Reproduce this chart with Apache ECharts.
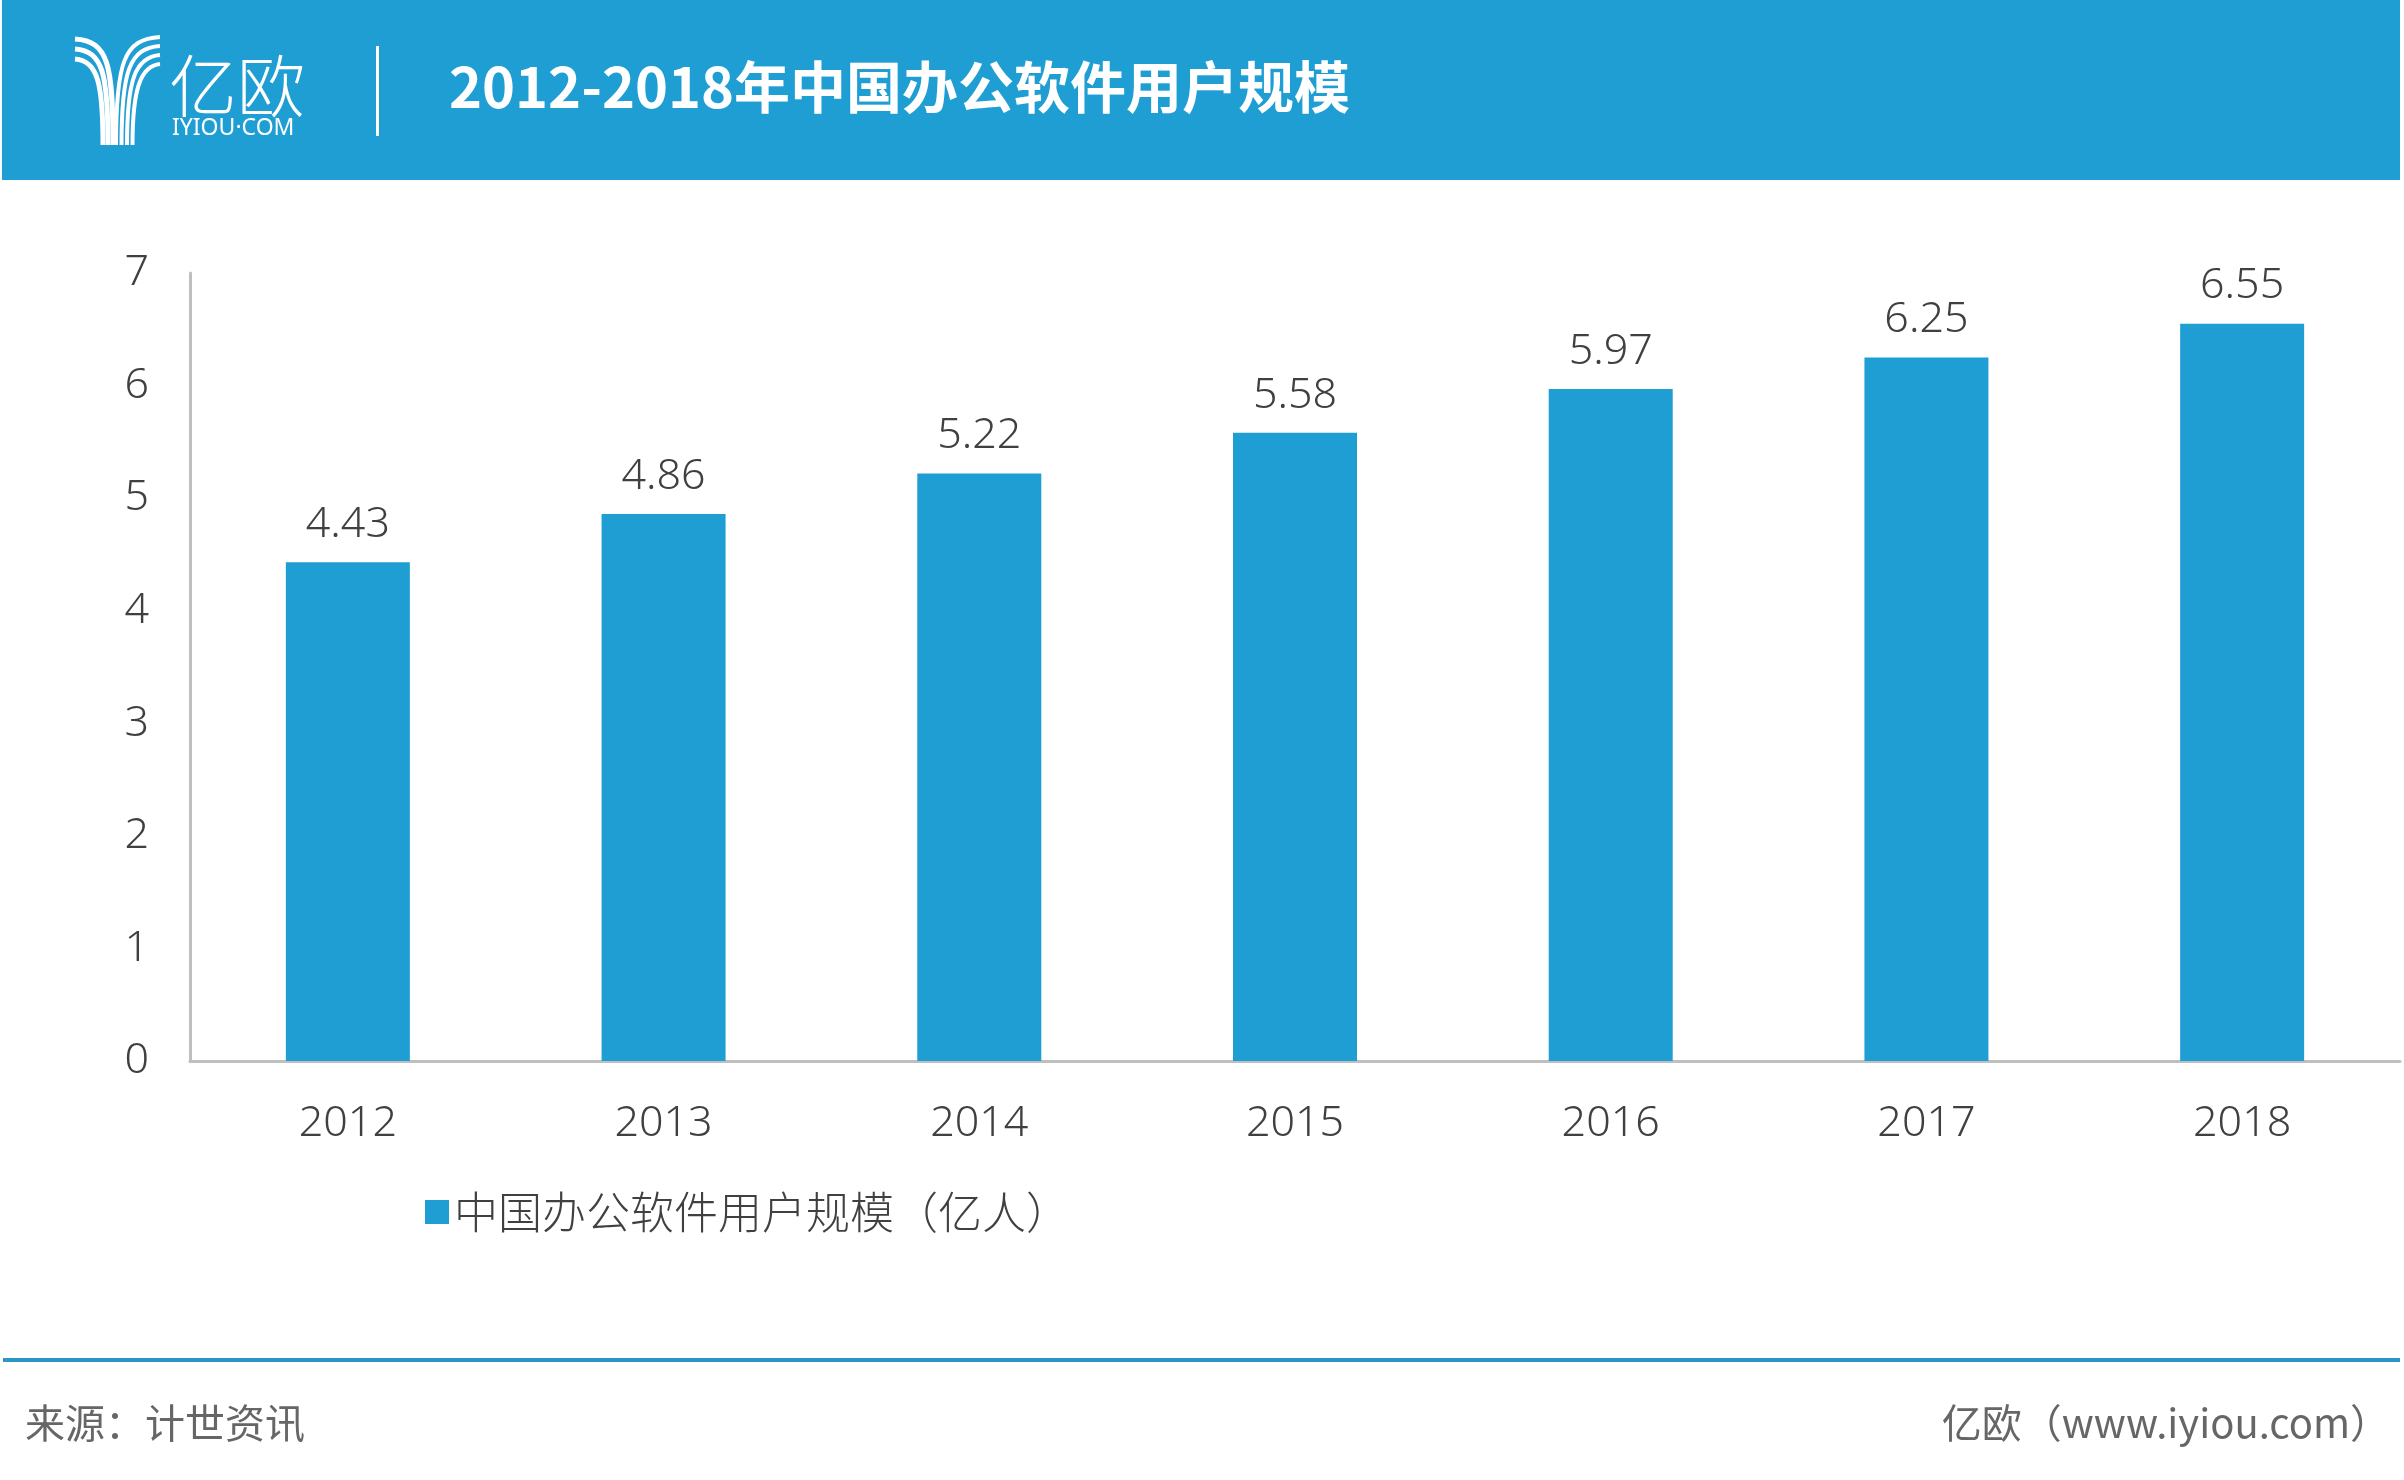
<!DOCTYPE html>
<html>
<head>
<meta charset="utf-8">
<script src="https://cdn.jsdelivr.net/npm/echarts@6/dist/echarts.min.js"></script>
<style>
html,body{margin:0;padding:0;background:#fff;}
#chart{width:2404px;height:1480px;}
</style>
</head>
<body>
<div id="chart"></div>
<script>
const categories = ['2012', '2013', '2014', '2015', '2016', '2017', '2018'];
const userScale = [4.43, 4.86, 5.22, 5.58, 5.97, 6.25, 6.55];
const seriesName = '中国办公软件用户规模（亿人）';
const titleText = '2012-2018年中国办公软件用户规模';
const sourceText = '来源：计世资讯';
const brandText = '亿欧（www.iyiou.com）';

const BLUE = '#1f9ed3';
const TEXT = '#404040';
const NUMFONT = '"Noto Sans", "Noto Sans CJK SC", sans-serif';
const CJKFONT = '"Noto Sans CJK SC", sans-serif';

// Logo stripes (decorative graphic)
const logo = [];
for (let i = 0; i < 3; i++) {
  const y0 = 39 + i * 10;
  const xe = 113 - i * 5;
  logo.push({
    type: 'bezierCurve',
    shape: {x1: 75, y1: y0, cpx1: xe - 5, cpy1: y0 + 2, cpx2: xe, cpy2: y0 + 25, x2: xe, y2: 145},
    style: {stroke: '#fff', lineWidth: 5, fill: null}
  });
}
for (let i = 0; i < 4; i++) {
  const y0 = 37 + i * 9;
  const xe = 116 + i * 5.5;
  logo.push({
    type: 'bezierCurve',
    shape: {x1: 160, y1: y0, cpx1: xe + 8, cpy1: y0 + 2, cpx2: xe, cpy2: y0 + 25, x2: xe, y2: 145},
    style: {stroke: '#fff', lineWidth: 4, fill: null}
  });
}

const chart = echarts.init(document.getElementById('chart'));
chart.setOption({
  backgroundColor: '#fff',
  animation: false,
  graphic: [
    {type: 'rect', shape: {x: 2, y: 0, width: 2398, height: 180}, style: {fill: BLUE}, z: 0},
    ...logo,
    {type: 'text', left: 169, top: 52, style: {text: '亿欧', fill: '#fff', font: '300 68px ' + CJKFONT}},
    {type: 'text', left: 172, top: 117, style: {text: 'IYIOU·COM', fill: '#fff', font: 'normal 23px "Noto Sans", sans-serif'}},
    {type: 'rect', shape: {x: 376, y: 46, width: 3, height: 90}, style: {fill: '#fff'}},
    {type: 'text', left: 449, top: 59, style: {text: titleText, fill: '#fff', font: 'bold 56px ' + CJKFONT}},
    {type: 'rect', shape: {x: 3, y: 1358, width: 2397, height: 4}, style: {fill: '#2a97c9'}},
    {type: 'text', left: 25, top: 1403, style: {text: sourceText, fill: '#666', font: '40px ' + CJKFONT}},
    {type: 'text', right: 14, top: 1403, style: {text: brandText, fill: '#666', font: '40px ' + CJKFONT}}
  ],
  legend: {
    left: 420,
    top: 1185,
    icon: 'rect',
    itemWidth: 24,
    itemHeight: 24,
    itemGap: 10,
    textStyle: {color: TEXT, fontSize: 44, fontFamily: CJKFONT, fontWeight: 300},
    data: [seriesName]
  },
  grid: {left: 190, right: 4, top: 273, bottom: 419, containLabel: false},
  xAxis: {
    type: 'category',
    data: categories,
    axisLine: {show: true, lineStyle: {color: '#bfbfbf', width: 3}},
    axisTick: {show: false},
    axisLabel: {color: TEXT, fontSize: 43, fontFamily: NUMFONT, fontWeight: 300, margin: 41}
  },
  yAxis: {
    type: 'value',
    min: 0,
    max: 7,
    interval: 1,
    axisLine: {show: true, lineStyle: {color: '#bfbfbf', width: 3}},
    axisTick: {show: false},
    splitLine: {show: false},
    axisLabel: {color: TEXT, fontSize: 43, fontFamily: NUMFONT, fontWeight: 300, margin: 41}
  },
  series: [{
    name: seriesName,
    type: 'bar',
    data: userScale,
    barWidth: 124,
    itemStyle: {color: BLUE},
    label: {show: true, position: 'top', distance: 16, color: TEXT, fontSize: 43, fontFamily: NUMFONT, fontWeight: 300}
  }]
});
</script>
</body>
</html>
